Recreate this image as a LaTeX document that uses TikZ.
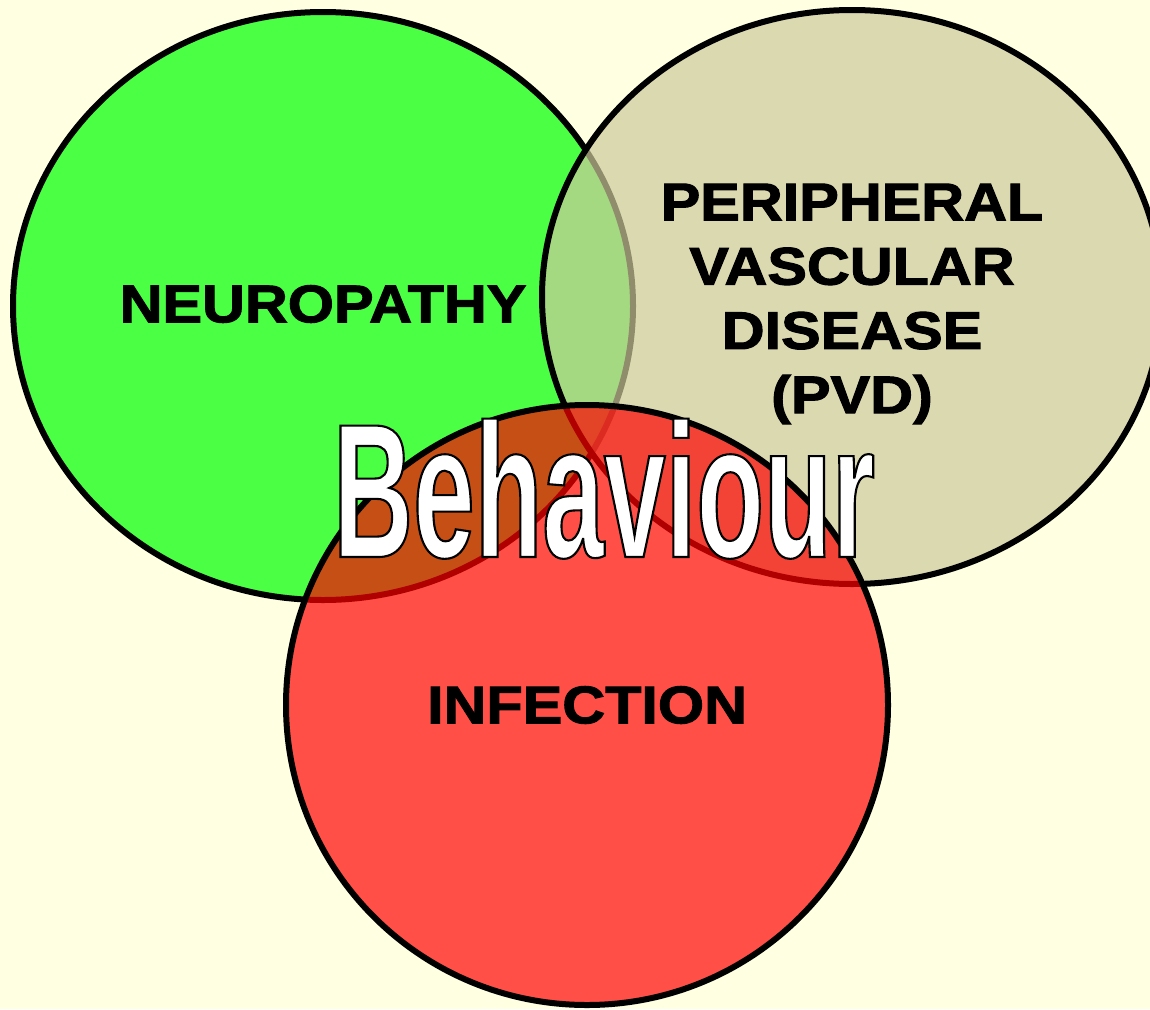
\documentclass[tikz,border=0pt]{standalone}
\usepackage{fontspec}
\setmainfont{Liberation Sans}
\newfontfamily\labelfont[FakeStretch=1.12, FakeBold=2]{Liberation Sans}
\newfontfamily\wordfont[FakeStretch=0.58, FakeBold=1.1]{Liberation Sans}
\usetikzlibrary{shapes.geometric}
\definecolor{bgyellow}{RGB}{255,255,226}
\definecolor{neurogreen}{RGB}{74,255,68}
\definecolor{pvdbeige}{RGB}{205,202,155}
\definecolor{infred}{RGB}{255,0,0}
% white letters, black rim (stroke colour set after the fill colour)
\newcommand{\rimmed}[1]{\special{pdf:literal direct 0 G}#1}

\begin{document}
\begin{tikzpicture}[x=1pt, y=-1pt,
  blob/.style={draw, ellipse, line width=6pt, inner sep=0pt},
  tag/.style={align=center, inner sep=0pt,
              font=\labelfont\bfseries\fontsize{53}{64.3}\selectfont},
  word/.style={inner sep=0pt, text=white,
               font=\wordfont\bfseries\fontsize{191}{200}\selectfont}]
\useasboundingbox (0,0) rectangle (1150,1009);
\fill[bgyellow] (0,0) rectangle (1150,1009);
% the three circles
\node[blob, fill=neurogreen, minimum width=620pt, minimum height=588pt] (neuro) at (323,306) {};
\node[blob, fill=pvdbeige, fill opacity=0.7, minimum width=620pt, minimum height=574pt] (pvd) at (852,297) {};
\node[blob, fill=infred, fill opacity=0.69, minimum width=602pt, minimum height=600pt] (infect) at (587,705) {};
% labels
\node[tag] (neurotext) at ([yshift=2pt]neuro.center) {NEUROPATHY};
\node[tag] (pvdtext) at ([yshift=-7pt]pvd.center) {PERIPHERAL\\ VASCULAR\\ DISEASE\\ (PVD)};
\node[tag] (infecttext) at (infect.center) {INFECTION};
\node[word, anchor=base] (behaviour) at (604,557) {\rimmed{Behaviour}};
\end{tikzpicture}
\end{document}
